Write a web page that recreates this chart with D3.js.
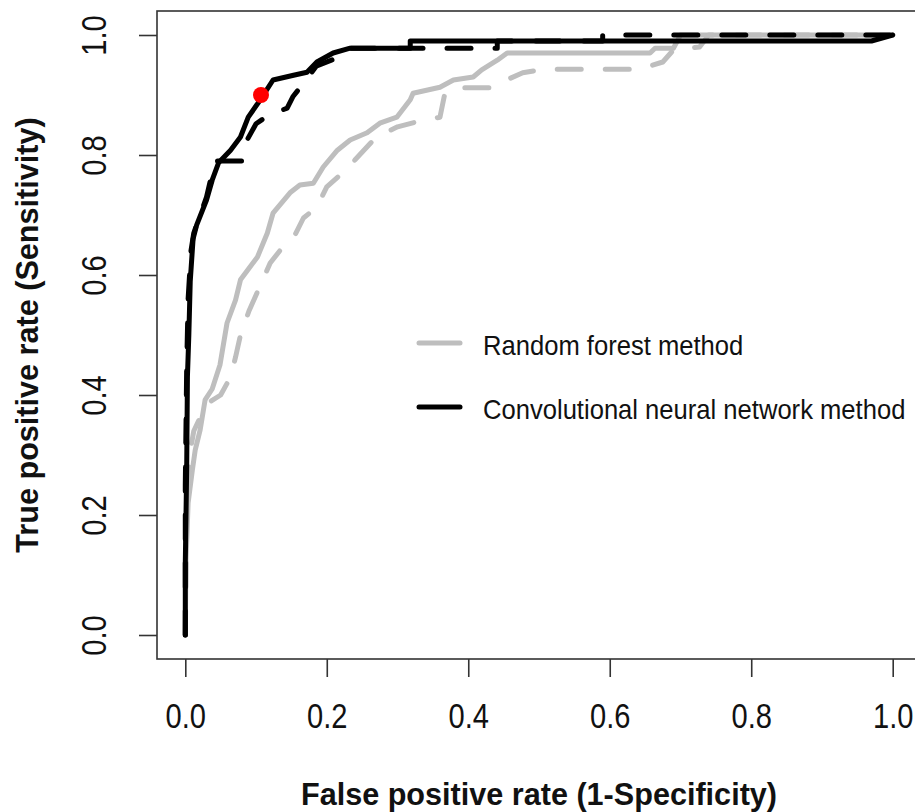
<!DOCTYPE html>
<html>
<head>
<meta charset="utf-8">
<script src="https://cdn.jsdelivr.net/npm/d3@7"></script>
<style>
  html, body { margin: 0; padding: 0; background: #fff; }
  svg { display: block; }
  text { font-family: "Liberation Sans", Arial, sans-serif; fill: #111; }
</style>
</head>
<body>
<svg id="chart" width="915" height="812"></svg>
<script>
// ---- Data ----
const tickValues = [0, 0.2, 0.4, 0.6, 0.8, 1.0];
const tickLabels = ["0.0", "0.2", "0.4", "0.6", "0.8", "1.0"];

const legendLabels = ["Random forest method", "Convolutional neural network method"];
const xTitle = "False positive rate (1-Specificity)";
const yTitle = "True positive rate (Sensitivity)";

// Random forest, solid
const rfSolidFpr = [0, 0.001, 0.004, 0.01, 0.014, 0.021, 0.028, 0.038, 0.049, 0.059, 0.071, 0.078, 0.088, 0.102, 0.116, 0.124, 0.148, 0.162, 0.181, 0.195, 0.215, 0.233, 0.257, 0.275, 0.299, 0.318, 0.322, 0.36, 0.379, 0.407, 0.419, 0.441, 0.455, 0.657, 0.664, 0.69, 0.7, 1];
const rfSolidTpr = [0, 0.125, 0.22, 0.275, 0.308, 0.342, 0.392, 0.41, 0.45, 0.52, 0.558, 0.592, 0.608, 0.63, 0.67, 0.703, 0.737, 0.75, 0.753, 0.78, 0.808, 0.825, 0.837, 0.853, 0.863, 0.892, 0.903, 0.913, 0.925, 0.93, 0.942, 0.958, 0.97, 0.97, 0.978, 0.978, 1, 1];

// Random forest, dashed
const rfDashedFpr = [0, 0.002, 0.006, 0.012, 0.02, 0.03, 0.05, 0.064, 0.071, 0.078, 0.09, 0.105, 0.12, 0.14, 0.153, 0.167, 0.186, 0.2, 0.222, 0.24, 0.27, 0.3, 0.336, 0.36, 0.367, 0.391, 0.431, 0.448, 0.477, 0.506, 0.643, 0.675, 0.69, 0.727, 0.74, 1];
const rfDashedTpr = [0, 0.18, 0.3, 0.34, 0.36, 0.385, 0.40, 0.43, 0.463, 0.5, 0.54, 0.58, 0.62, 0.65, 0.662, 0.695, 0.713, 0.747, 0.77, 0.792, 0.83, 0.847, 0.858, 0.863, 0.903, 0.912, 0.912, 0.922, 0.937, 0.943, 0.943, 0.955, 0.975, 0.98, 1, 1];

// CNN, solid
const cnnSolidFpr = [0, 0, 0.002, 0.003, 0.005, 0.007, 0.011, 0.016, 0.03, 0.038, 0.047, 0.064, 0.078, 0.089, 0.106, 0.124, 0.153, 0.172, 0.186, 0.209, 0.233, 0.318, 0.318, 0.97, 1];
const cnnSolidTpr = [0, 0.12, 0.28, 0.43, 0.5, 0.59, 0.66, 0.683, 0.725, 0.758, 0.787, 0.808, 0.83, 0.863, 0.892, 0.925, 0.933, 0.938, 0.955, 0.97, 0.978, 0.978, 0.99, 0.99, 1];

// CNN, dashed
const cnnDashedFpr = [0, 0, 0.002, 0.004, 0.008, 0.012, 0.018, 0.03, 0.042, 0.08, 0.085, 0.1, 0.117, 0.144, 0.152, 0.174, 0.185, 0.215, 0.226, 0.441, 0.441, 0.59, 0.59, 1];
const cnnDashedTpr = [0, 0.25, 0.45, 0.56, 0.64, 0.67, 0.69, 0.73, 0.79, 0.79, 0.82, 0.852, 0.866, 0.878, 0.897, 0.93, 0.948, 0.962, 0.978, 0.978, 0.99, 0.99, 1, 1];

// Highlighted operating point
const pointFpr = [0.107];
const pointTpr = [0.9];

// ---- Drawing ----
const svg = d3.select("#chart");
const plotLeft = 157, plotRight = 921, plotTop = 11, plotBottom = 659;

const x = d3.scaleLinear().domain([-0.04, 1.04]).range([plotLeft, plotRight]);
const y = d3.scaleLinear().domain([-0.04, 1.04]).range([plotBottom, plotTop]);

const zip = (a, b) => a.map((v, i) => [v, b[i]]);
const line = d3.line().x(d => x(d[0])).y(d => y(d[1]));

const series = [
  { fpr: rfSolidFpr,  tpr: rfSolidTpr,  color: "#bebebe", dash: null },
  { fpr: rfDashedFpr, tpr: rfDashedTpr, color: "#bebebe", dash: "24 24" },
  { fpr: cnnSolidFpr, tpr: cnnSolidTpr, color: "#000000", dash: null },
  { fpr: cnnDashedFpr, tpr: cnnDashedTpr, color: "#000000", dash: "24 24" }
];

svg.append("defs").append("clipPath").attr("id", "clip")
  .append("rect").attr("x", plotLeft).attr("y", plotTop)
  .attr("width", plotRight - plotLeft).attr("height", plotBottom - plotTop);

const plot = svg.append("g").attr("clip-path", "url(#clip)");
series.forEach(s => {
  plot.append("path")
    .datum(zip(s.fpr, s.tpr))
    .attr("d", line)
    .attr("fill", "none")
    .attr("stroke", s.color)
    .attr("stroke-width", 5)
    .attr("stroke-linecap", "round")
    .attr("stroke-linejoin", "round")
    .attr("stroke-dasharray", s.dash);
});

plot.selectAll("circle.pt").data(zip(pointFpr, pointTpr)).enter()
  .append("circle").attr("class", "pt")
  .attr("cx", d => x(d[0])).attr("cy", d => y(d[1]))
  .attr("r", 8).attr("fill", "#ff0000");

// Box
svg.append("rect")
  .attr("x", plotLeft).attr("y", plotTop)
  .attr("width", plotRight - plotLeft).attr("height", plotBottom - plotTop)
  .attr("fill", "none").attr("stroke", "#333").attr("stroke-width", 1.6);

// X axis
const xAxis = d3.axisBottom(x).tickValues(tickValues)
  .tickFormat((d, i) => tickLabels[i]).tickSize(18).tickSizeOuter(0);
const gx = svg.append("g").attr("transform", `translate(0,${plotBottom})`).call(xAxis);
gx.select(".domain").remove();
gx.selectAll(".tick line").attr("stroke", "#333").attr("stroke-width", 1.6);
gx.selectAll(".tick text")
  .attr("y", 0).attr("dy", null)
  .attr("transform", "translate(0,69) scale(0.97,1.15)")
  .attr("font-size", 30).attr("fill", "#111")
  .style("font-family", '"Liberation Sans", Arial, sans-serif');

// Y axis
const yAxis = d3.axisLeft(y).tickValues(tickValues)
  .tickFormat((d, i) => tickLabels[i]).tickSize(18).tickSizeOuter(0);
const gy = svg.append("g").attr("transform", `translate(${plotLeft},0)`).call(yAxis);
gy.select(".domain").remove();
gy.selectAll(".tick line").attr("stroke", "#333").attr("stroke-width", 1.6);
gy.selectAll(".tick text")
  .attr("x", 0).attr("dy", null).attr("text-anchor", "middle")
  .attr("transform", "translate(-51,0) rotate(-90) scale(0.97,1.15)")
  .attr("font-size", 30).attr("fill", "#111")
  .style("font-family", '"Liberation Sans", Arial, sans-serif');

// Axis titles
svg.append("text")
  .attr("x", (plotLeft + plotRight) / 2).attr("y", 805)
  .attr("text-anchor", "middle").attr("font-weight", "bold").attr("font-size", 30.6)
  .text(xTitle);

svg.append("text")
  .attr("transform", `translate(38,${(plotTop + plotBottom) / 2}) rotate(-90)`)
  .attr("text-anchor", "middle").attr("font-weight", "bold").attr("font-size", 30.6)
  .text(yTitle);

// Legend
const legendColors = ["#bebebe", "#000000"];
const legendY = [343, 407];
const lg = svg.append("g");
legendLabels.forEach((lab, i) => {
  lg.append("line")
    .attr("x1", 419).attr("x2", 460)
    .attr("y1", legendY[i]).attr("y2", legendY[i])
    .attr("stroke", legendColors[i]).attr("stroke-width", 5)
    .attr("stroke-linecap", "round");
  lg.append("text")
    .attr("transform", `translate(483,${legendY[i] + 12}) scale(1,1.08)`)
    .attr("font-size", 25.6)
    .text(lab);
});
</script>
</body>
</html>
